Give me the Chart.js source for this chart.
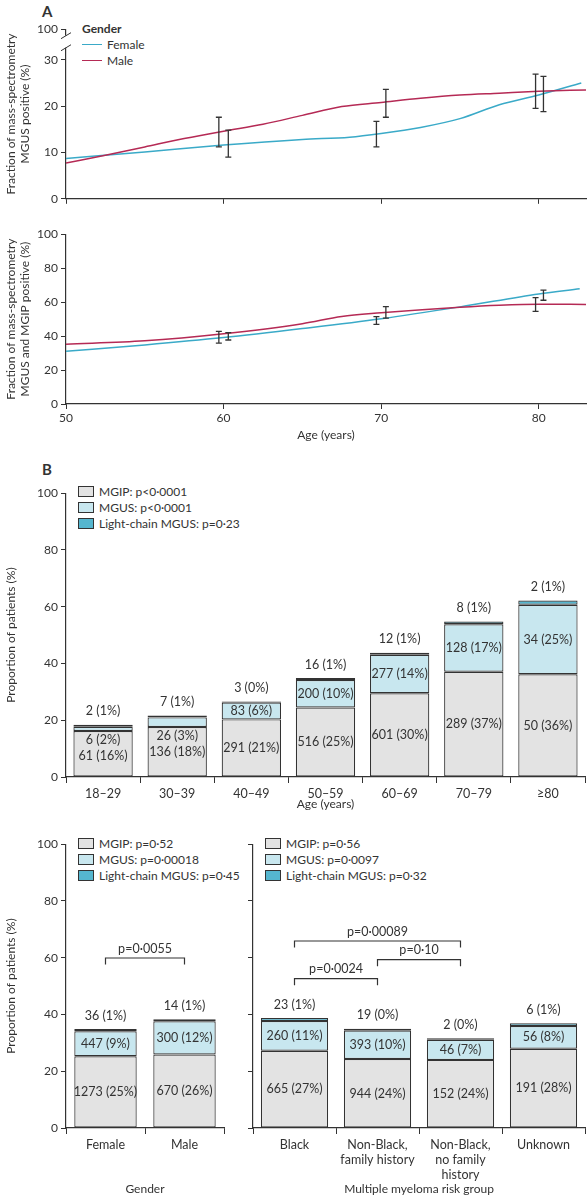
<!DOCTYPE html>
<html><head><meta charset="utf-8">
<script src="https://cdn.jsdelivr.net/npm/chart.js@4.4.1/dist/chart.umd.min.js"></script>
<style>
body{margin:0;background:#fff;font-family:Lato,"Open Sans",sans-serif;color:#333;}
.c{position:absolute;}
.t{position:absolute;font-size:12px;white-space:nowrap;line-height:14px;}
.box{display:inline-block;width:14px;height:9px;border:1.2px solid #333;vertical-align:-1px;margin-right:5px;}
.ln{display:inline-block;width:20px;height:0;border-top:1.5px solid;vertical-align:4px;margin-right:5px;}
</style></head><body>
<div class="t" style="left:42px;top:4px;font-weight:bold;font-size:15px">A</div>
<div class="t" style="left:42px;top:462px;font-weight:bold;font-size:15px">B</div>
<div class="t" style="left:82px;top:22px;font-weight:bold">Gender</div>
<div class="t" style="left:82px;top:38px"><span class="ln" style="border-color:#3aaac8"></span>Female</div>
<div class="t" style="left:82px;top:54px"><span class="ln" style="border-color:#b52a55"></span>Male</div>

<div class="t" style="left:78px;top:485px"><span class="box" style="background:#e3e3e3"></span>MGIP: p&lt;0·0001</div>
<div class="t" style="left:78px;top:501px"><span class="box" style="background:#c8e7ef"></span>MGUS: p&lt;0·0001</div>
<div class="t" style="left:78px;top:517px"><span class="box" style="background:#55b6cf"></span>Light-chain MGUS: p=0·23</div>

<div class="t" style="left:78px;top:837px"><span class="box" style="background:#e3e3e3"></span>MGIP: p=0·52</div>
<div class="t" style="left:78px;top:853px"><span class="box" style="background:#c8e7ef"></span>MGUS: p=0·00018</div>
<div class="t" style="left:78px;top:869px"><span class="box" style="background:#55b6cf"></span>Light-chain MGUS: p=0·45</div>
<div class="t" style="left:265px;top:837px"><span class="box" style="background:#e3e3e3"></span>MGIP: p=0·56</div>
<div class="t" style="left:265px;top:853px"><span class="box" style="background:#c8e7ef"></span>MGUS: p=0·0097</div>
<div class="t" style="left:265px;top:869px"><span class="box" style="background:#55b6cf"></span>Light-chain MGUS: p=0·32</div>

<div class="c" style="left:0;top:19px;width:587px;height:190px"><canvas id="a1"></canvas></div>
<div class="c" style="left:0;top:224px;width:587px;height:222px"><canvas id="a2"></canvas></div>
<div class="c" style="left:0;top:483px;width:587px;height:332px"><canvas id="b1"></canvas></div>
<div class="c" style="left:0;top:834px;width:226px;height:366px"><canvas id="b2"></canvas></div>
<div class="c" style="left:240px;top:834px;width:347px;height:366px"><canvas id="b3"></canvas></div>
<script>
// ---------- Panel A data ----------
const femAges1=[50,55,60,65,68,70,72.5,75,77.5,80,82.7];
const femMgus=[8.7,10.1,11.6,12.8,13.3,14.1,15.4,17.3,20.3,22.4,25.0];
const maleAges1=[50,52.5,55,57.5,60,62.5,65,67.5,70,72.5,75,77.5,80,83];
const maleMgus=[7.7,9.4,11.2,13.0,14.6,16.1,18.0,19.9,20.8,21.7,22.4,22.8,23.2,23.5];
const errAges1=[59.7,60.3,69.7,70.3,79.8,80.3];
const errLow1=[11.2,9.0,11.2,17.6,19.5,18.8];
const errHigh1=[17.6,14.8,16.7,23.6,26.9,26.4];

const femAges2=[50,55,60,65,70,75,80,82.6];
const femAll=[31.1,34.8,39.1,44.4,50.2,57.2,64.8,67.9];
const maleAges2=[50,55,60,65,67.5,70,75,77.5,80,83];
const maleAll=[35.2,37.2,41.4,47.3,51.6,53.7,57.0,58.2,58.8,58.6];
const errAges2=[59.7,60.3,69.7,70.3,79.8,80.3];
const errLow2=[35.8,37.7,46.9,50.6,54.5,61.1];
const errHigh2=[42.8,42.0,51.4,57.4,62.6,67.1];

// ---------- Panel B data ----------
const ageGroups=['18–29','30–39','40–49','50–59','60–69','70–79','≥80'];
const b1Mgip=[16.2,17.6,20.3,24.5,29.5,37.1,36.2];
const b1Mgus=[1.5,3.4,5.9,9.7,13.6,16.7,24.5];
const b1Lc=[0.7,0.7,0.4,0.7,0.7,1.0,1.5];
const b1MgipLbl=['61 (16%)','136 (18%)','291 (21%)','516 (25%)','601 (30%)','289 (37%)','50 (36%)'];
const b1MgusLbl=['6 (2%)','26 (3%)','83 (6%)','200 (10%)','277 (14%)','128 (17%)','34 (25%)'];
const b1LcLbl=['2 (1%)','7 (1%)','3 (0%)','16 (1%)','12 (1%)','8 (1%)','2 (1%)'];

const genders=['Female','Male'];
const gMgip=[25.3,25.9];
const gMgus=[8.8,11.7];
const gLc=[0.8,0.7];
const gMgipLbl=['1273 (25%)','670 (26%)'];
const gMgusLbl=['447 (9%)','300 (12%)'];
const gLcLbl=['36 (1%)','14 (1%)'];

const riskGroups=[['Black'],['Non-Black,','family history'],['Non-Black,','no family','history'],['Unknown']];
const rMgip=[27.2,24.3,24.0,27.9];
const rMgus=[10.5,10.0,7.1,8.0];
const rLc=[1.1,0.7,0.5,1.0];
const rMgipLbl=['665 (27%)','944 (24%)','152 (24%)','191 (28%)'];
const rMgusLbl=['260 (11%)','393 (10%)','46 (7%)','56 (8%)'];
const rLcLbl=['23 (1%)','19 (0%)','2 (0%)','6 (1%)'];
// brackets: [fromIndex,toIndex,level,label]
const gBrackets=[[0,1,59.9,'p=0·0055']];
const rBrackets=[[0,2,65.9,'p=0·00089'],[1,2,59.3,'p=0·10'],[0,1,52.6,'p=0·0024']];

const FONT={family:'Lato, "Open Sans", sans-serif',size:12};
Chart.defaults.font=FONT;
Chart.defaults.color='#333';
const AX='#333';
const FEM='#3aaac8', MALE='#b52a55';

function pts(a,v){return a.map((x,i)=>({x:x,y:v[i]}));}
function errPlugin(ages,lo,hi){
  return {id:'err',afterDatasetsDraw(c){
    const ctx=c.ctx,x=c.scales.x,y=c.scales.y;
    ctx.save();ctx.strokeStyle='#333';ctx.lineWidth=1.3;
    ages.forEach((a,i)=>{const px=x.getPixelForValue(a),t=y.getPixelForValue(hi[i]),b=y.getPixelForValue(lo[i]);
      ctx.beginPath();ctx.moveTo(px,t);ctx.lineTo(px,b);ctx.moveTo(px-3,t);ctx.lineTo(px+3,t);ctx.moveTo(px-3,b);ctx.lineTo(px+3,b);ctx.stroke();});
    ctx.restore();}};
}
function lineChart(id,fa,fv,ma,mv,ea,el,eh,opts){
  const plugins=[errPlugin(ea,el,eh)];
  if(opts.brk)plugins.push({id:'brk',afterDraw(c){const ctx=c.ctx,y=c.scales.y,x0=c.chartArea.left;
      const a=y.getPixelForValue(32.6),b=y.getPixelForValue(35.2);
      ctx.save();ctx.fillStyle='#fff';ctx.fillRect(x0-3,b,6,a-b);ctx.strokeStyle='#333';ctx.lineWidth=1;
      ctx.beginPath();ctx.moveTo(x0-5,a+3);ctx.lineTo(x0+5,a-3);ctx.moveTo(x0-5,b+3);ctx.lineTo(x0+5,b-3);ctx.stroke();ctx.restore();}});
  return new Chart(document.getElementById(id),{type:'line',
    data:{datasets:[
      {data:pts(ma,mv),borderColor:MALE,borderWidth:1.5,pointRadius:0,cubicInterpolationMode:'monotone'},
      {data:pts(fa,fv),borderColor:FEM,borderWidth:1.5,pointRadius:0,cubicInterpolationMode:'monotone'}]},
    options:{responsive:true,maintainAspectRatio:false,animation:false,
      layout:{padding:{top:8,right:1,left:0,bottom:0}},
      plugins:{legend:{display:false},tooltip:{enabled:false}},
      scales:{
        x:{type:'linear',min:50,max:83,afterFit(s){s.height=opts.xh;},
           afterBuildTicks(s){s.ticks=[50,60,70,80].map(v=>({value:v}));},
           border:{color:AX,width:1.2},grid:{drawOnChartArea:false,color:AX,tickLength:5},
           ticks:{display:opts.xlab,padding:2},
           title:{display:opts.xlab,text:'Age (years)',padding:{top:2}}},
        y:{min:0,max:opts.ymax,afterFit(s){s.width=66;},
           afterBuildTicks(s){s.ticks=opts.yt.map(v=>({value:v}));},
           border:{color:AX,width:1.2},grid:{drawOnChartArea:false,color:AX,tickLength:5},
           ticks:{padding:3,callback:(v)=>opts.ymap?opts.ymap(v):v},
           title:{display:true,text:opts.ytitle,padding:{bottom:4}}}}},
    plugins});
}
lineChart('a1',femAges1,femMgus,maleAges1,maleMgus,errAges1,errLow1,errHigh1,
  {ymax:36.6,yt:[0,10,20,30,36.6],ymap:v=>v>31?'100':v,xh:10,xlab:false,brk:true,
   ytitle:['Fraction of mass-spectrometry','MGUS positive (%)']});
lineChart('a2',femAges2,femAll,maleAges2,maleAll,errAges2,errLow2,errHigh2,
  {ymax:100,yt:[0,20,40,60,80,100],xh:42,xlab:true,
   ytitle:['Fraction of mass-spectrometry','MGUS and MGIP positive (%)']});

function barChart(id,cats,mg,mu,lc,mgL,muL,lcL,o){
  const labPlugin={id:'lab',afterDatasetsDraw(c){
    const ctx=c.ctx,x=c.scales.x,y=c.scales.y;
    ctx.save();ctx.fillStyle='#333';ctx.font='12.5px '+FONT.family;ctx.textAlign='center';ctx.textBaseline='middle';
    cats.forEach((_,i)=>{const px=x.getPixelForValue(i);const top=mg[i]+mu[i]+lc[i];
      let gy=mg[i]/2,uy=mg[i]+mu[i]/2;
      if(mu[i]<4){uy=mg[i]-3.3;gy=mg[i]-8.7;}
      ctx.fillText(mgL[i],px,y.getPixelForValue(gy));
      ctx.fillText(muL[i],px,y.getPixelForValue(uy));
      ctx.fillText(lcL[i],px,y.getPixelForValue(top+4.7));});
    ctx.strokeStyle='#333';ctx.lineWidth=1.2;
    (o.br||[]).forEach(b=>{const x1=x.getPixelForValue(b[0]),x2=x.getPixelForValue(b[1]),py=y.getPixelForValue(b[2]),d=y.getPixelForValue(b[2]-2.3);
      ctx.beginPath();ctx.moveTo(x1,d);ctx.lineTo(x1,py);ctx.lineTo(x2,py);ctx.lineTo(x2,d);ctx.stroke();
      ctx.fillText(b[3],(x1+x2)/2,y.getPixelForValue(b[2]+3.3));});
    ctx.restore();}};
  const ds=(d,col)=>({data:d,backgroundColor:col,borderColor:'#333',borderWidth:1.2,borderSkipped:false,
      barPercentage:o.bp,categoryPercentage:1});
  return new Chart(document.getElementById(id),{type:'bar',
    data:{labels:cats,datasets:[ds(mg,'#e3e3e3'),ds(mu,'#c8e7ef'),ds(lc,'#55b6cf')]},
    options:{responsive:true,maintainAspectRatio:false,animation:false,
      layout:{padding:{top:8,right:2,left:0,bottom:0}},
      plugins:{legend:{display:false},tooltip:{enabled:false}},
      scales:{
        x:{stacked:true,afterFit(s){s.height=o.xh;},border:{color:AX,width:1.2},
           grid:{drawOnChartArea:false,color:AX,tickLength:6,offset:true},
           ticks:{padding:3,maxRotation:0,autoSkip:false,font:{size:12.5}},
           title:{display:!!o.xt,text:o.xt,padding:{top:o.xtp||2}}},
        y:{stacked:true,min:0,max:100,afterFit(s){s.width=o.yw;},border:{color:AX,width:1.2},
           grid:{drawOnChartArea:false,color:AX,tickLength:5},
           ticks:{stepSize:20,padding:3,callback:v=>o.nolab?'':v},
           title:{display:!o.nolab,text:'Proportion of patients (%)',padding:{bottom:6}}}}},
    plugins:[labPlugin]});
}
barChart('b1',ageGroups,b1Mgip,b1Mgus,b1Lc,b1MgipLbl,b1MgusLbl,b1LcLbl,{bp:0.8,xh:38,yw:66,xt:'Age (years)'});
barChart('b2',genders,gMgip,gMgus,gLc,gMgipLbl,gMgusLbl,gLcLbl,{bp:0.79,xh:72,yw:66,xt:'Gender',xtp:34,br:gBrackets});
barChart('b3',riskGroups,rMgip,rMgus,rLc,rMgipLbl,rMgusLbl,rLcLbl,{bp:0.81,xh:72,yw:13,nolab:true,xt:'Multiple myeloma risk group',xtp:4,br:rBrackets});
</script>
</body></html>
